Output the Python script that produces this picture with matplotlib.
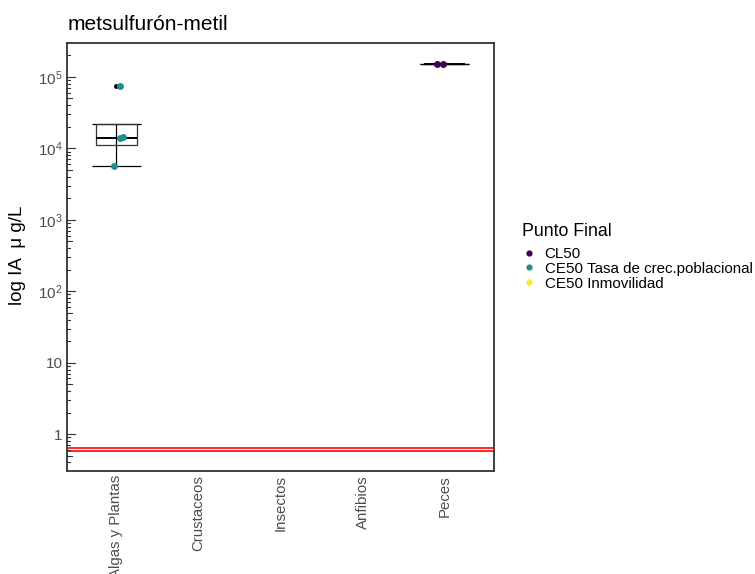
import numpy as np
import matplotlib
matplotlib.use("Agg")
import matplotlib.pyplot as plt
from matplotlib.lines import Line2D
from matplotlib.patches import Rectangle

plt.rcParams['font.family'] = ['Liberation Sans', 'DejaVu Sans']
plt.rcParams['mathtext.fontset'] = 'custom'
plt.rcParams['mathtext.rm'] = 'Liberation Sans'
plt.rcParams['mathtext.it'] = 'Liberation Sans:italic'

# ---- data ----
categories = ["Algas y Plantas", "Crustaceos", "Insectos", "Anfibios", "Peces"]
endpoints = ["CL50", "CE50 Tasa de crec.poblacional", "CE50 Inmovilidad"]
endpoint_colors = ["#440154", "#21908C", "#FDE725"]

# toxicity values (µg/L) per group
algae_values = [73600, 14000, 14400, 5600]
algae_endpoint = [1, 1, 1, 1]
algae_jitter = [0.05, 0.04, 0.08, -0.03]

fish_values = [150000, 150000]
fish_endpoint = [0, 0]
fish_jitter = [-0.09, -0.02]

# reference thresholds
thresholds = [0.64, 0.58]

groups = {0: (algae_values, algae_endpoint, algae_jitter),
          4: (fish_values, fish_endpoint, fish_jitter)}

W, H = 755, 574
fig = plt.figure(figsize=(W / 100, H / 100), dpi=100)
ax = fig.add_axes([67 / W, 1 - 471 / H, 427 / W, 428 / H])
ax.set_yscale('log')
ax.set_ylim(10 ** -0.518, 10 ** 5.476)
ax.set_xlim(0.4, 5.6)

edge = "#333333"
for pos, (vals, eps, jit) in groups.items():
    x = pos + 1
    lv = np.log10(vals)
    q1, med, q3 = np.percentile(lv, [25, 50, 75])
    iqr = q3 - q1
    out = (lv < q1 - 1.5 * iqr) | (lv > q3 + 1.5 * iqr)
    inl = np.concatenate([[q1, med, q3], lv[~out]])
    lo, hi = inl.min(), inl.max()
    # error bar (whisker range) with caps
    ax.vlines(x, 10 ** lo, 10 ** hi, color="black", lw=0.9, zorder=2)
    ax.hlines([10 ** lo, 10 ** hi], x - 0.3, x + 0.3, color="black", lw=0.9, zorder=2)
    # box
    ax.add_patch(Rectangle((x - 0.25, 10 ** q1), 0.5, 10 ** q3 - 10 ** q1,
                           fill=False, edgecolor=edge, lw=0.9, zorder=2))
    ax.hlines(10 ** med, x - 0.25, x + 0.25, color="black", lw=1.4, zorder=2)
    # outliers
    if out.any():
        ax.plot([x] * out.sum(), 10 ** lv[out], 'o', color="black", ms=2.5, zorder=3)
    # jittered observations
    for v, e, j in zip(vals, eps, jit):
        ax.plot(x + j, v, 'o', color=endpoint_colors[e], ms=5, mew=0, zorder=4)

for t in thresholds:
    ax.axhline(t, color="red", lw=1.2, zorder=3)

ax.set_xticks(range(1, 6))
ax.set_xticklabels(categories, rotation=90, color="#4D4D4D", fontsize=10.8)
ax.tick_params(axis='x', length=0, pad=3)

ax.set_yticks([1, 10, 100, 1e3, 1e4, 1e5])
ax.set_yticklabels(["1", "10", r"$10^{2}$", r"$10^{3}$", r"$10^{4}$", r"$10^{5}$"],
                   color="#4D4D4D", fontsize=11)
ax.yaxis.set_minor_locator(plt.NullLocator())
ax.tick_params(axis='y', which='major', length=0, pad=3)

# log ticks drawn inside the panel
for d in range(-1, 6):
    for m in range(1, 10):
        v = m * 10.0 ** d
        if not (10 ** -0.518 <= v <= 10 ** 5.476):
            continue
        L = 0.018 if m == 1 else (0.012 if m == 5 else 0.008)
        ax.plot([0, L], [v, v], transform=ax.get_yaxis_transform(), color="#333333",
                lw=0.8, clip_on=False, zorder=5)

for s in ax.spines.values():
    s.set_color("#333333")
    s.set_linewidth(1.3)

fig.text(18 / W, 1 - 255 / H, "log IA  \u03bc g/L", rotation=90, fontsize=13.5,
         ha="center", va="center")
fig.text(68 / W, 1 - 25 / H, "metsulfurón-metil", fontsize=15, ha="left", va="center")

# legend
fig.text(522 / W, 1 - 232 / H, "Punto Final", fontsize=12.8, ha="left", va="center")
handles = [Line2D([], [], marker='o', ls='', color=c, ms=4.5, mew=0) for c in endpoint_colors]
leg = fig.legend(handles, endpoints, loc="upper left",
                 bbox_to_anchor=(522 / W, 1 - 247 / H), frameon=False,
                 fontsize=10.9, handlelength=0.9, handletextpad=0.6,
                 labelspacing=0.05, borderaxespad=0, borderpad=0)

fig.savefig("out.png", dpi=100)
